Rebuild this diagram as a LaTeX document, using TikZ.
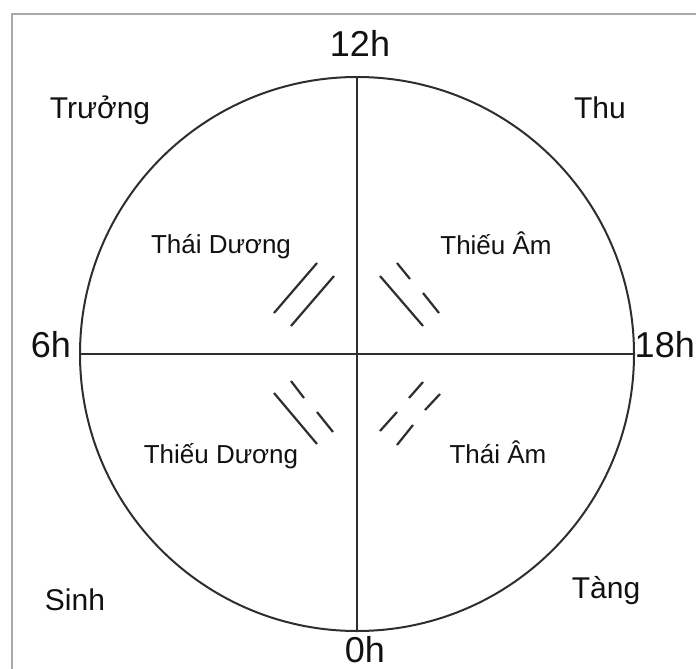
\documentclass[tikz,border=0pt]{standalone}
\usepackage{fontspec}
\setmainfont{Liberation Sans}
\usepackage{tikz}
\usetikzlibrary{positioning}
\definecolor{framegray}{HTML}{A8A8A8}
\definecolor{lineink}{HTML}{2E2E2E}
\definecolor{textink}{HTML}{111111}

\begin{document}
\begin{tikzpicture}[x=1pt, y=-1pt,
  hourlbl/.style={font=\fontsize{36}{40}\selectfont, text=textink, anchor=base, inner sep=0pt},
  seasonlbl/.style={font=\fontsize{30}{34}\selectfont, text=textink, anchor=base, inner sep=0pt},
  quadlbl/.style={font=\fontsize{26}{30}\selectfont, text=textink, anchor=base, inner sep=0pt},
  yaoline/.style={lineink, line width=2.2pt}]
  \useasboundingbox (0,0) rectangle (696,669);
  % --- Frame ---
  \draw[framegray, line width=1.5pt] (12,669) -- (12,14) -- (696,14);

  % --- Circle and axes ---
  \coordinate (c) at (357,354);
  \draw[lineink, line width=2pt] (c) circle[radius=277];
  \coordinate (west) at (80,354);
  \coordinate (east) at (634,354);
  \coordinate (north) at (357,77);
  \coordinate (south) at (357,631);
  \draw[lineink, line width=2pt] (west) -- (east);
  \draw[lineink, line width=2pt] (north) -- (south);

  % --- Hours ---
  \node[hourlbl] (h12) at (360,57) {12h};
  \node[hourlbl] (h6) at (51,357) {6h};
  \node[hourlbl, anchor=base east] (h18) at (695,357) {18h};
  \node[hourlbl] (h0) at (365,662) {0h};

  % --- Seasons ---
  \node[seasonlbl] (truong) at (100,118) {Trưởng};
  \node[seasonlbl] (thu) at (600,118) {Thu};
  \node[seasonlbl] (sinh) at (75,610) {Sinh};
  \node[seasonlbl] (tang) at (606,598) {Tàng};

  % --- Quadrants ---
  \node[quadlbl] (thaiduong) at (221,253) {Thái Dương};
  \node[quadlbl] (thieuam) at (496,254) {Thiếu Âm};
  \node[quadlbl] (thieuduong) at (221,463) {Thiếu Dương};
  \node[quadlbl] (thaiam) at (498,463) {Thái Âm};

  % --- Lines of each quadrant ---
  % Thai Duong: two unbroken lines
  \draw[yaoline] (274,313) -- (317,263);
  \draw[yaoline] (291,326) -- (334,276);
  % Thieu Am: one unbroken, one broken
  \draw[yaoline] (380,276) -- (423,326);
  \draw[yaoline] (397,263) -- (410,279) (423,293) -- (439,313);
  % Thieu Duong: one unbroken, one broken
  \draw[yaoline] (274,393) -- (317,444);
  \draw[yaoline] (291,381) -- (304,398) (317,412) -- (333,432);
  % Thai Am: two broken lines
  \draw[yaoline] (380,431) -- (397,412) (409,398) -- (423,382);
  \draw[yaoline] (397,445) -- (413,425) (425,410) -- (440,394);
\end{tikzpicture}
\end{document}
